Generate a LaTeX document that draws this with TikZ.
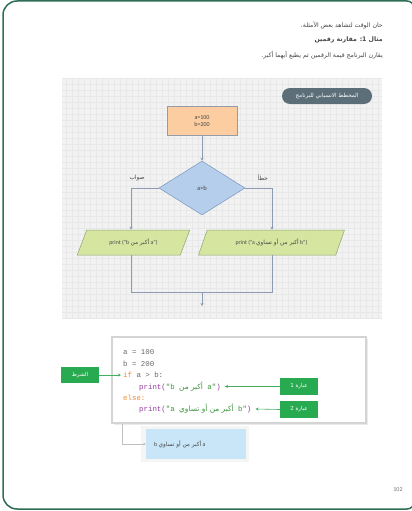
\documentclass[tikz,border=0pt]{standalone}
\usepackage{fontspec}
\setmainfont{Carlito}
\setmonofont{Liberation Mono}
\newfontfamily\arabicfont[Script=Arabic]{DejaVu Sans}
\TeXXeTstate=1
\usetikzlibrary{shapes.geometric,arrows.meta}
\newcommand\artxt[1]{{\arabicfont\beginR #1\endR}}
\definecolor{framec}{RGB}{45,110,85}
\definecolor{bggray}{RGB}{242,242,242}
\definecolor{gridc}{RGB}{232,232,232}
\definecolor{pillc}{RGB}{92,110,120}
\definecolor{orangef}{RGB}{251,205,160}
\definecolor{orangeb}{RGB}{150,155,170}
\definecolor{bluef}{RGB}{180,206,235}
\definecolor{blueb}{RGB}{120,150,190}
\definecolor{greenf}{RGB}{214,230,160}
\definecolor{greenb}{RGB}{140,165,110}
\definecolor{linec}{RGB}{140,155,178}
\definecolor{labg}{RGB}{40,170,80}
\definecolor{arrg}{RGB}{70,175,95}
\definecolor{codebox}{RGB}{212,212,212}
\definecolor{outf}{RGB}{200,230,248}
\definecolor{codegray}{RGB}{105,105,105}
\definecolor{kwc}{RGB}{238,140,50}
\definecolor{fnc}{RGB}{150,60,160}
\definecolor{strc}{RGB}{60,150,60}
\definecolor{txtc}{RGB}{70,70,70}
\begin{document}
\begin{tikzpicture}[x=1pt,y=-1pt,
  hdr/.style={anchor=east,inner sep=0,text=txtc,font=\fontsize{6.2}{7}\arabicfont},
  fbox/.style={draw=orangeb,fill=orangef,line width=0.5,minimum width=70,minimum height=29,inner sep=0,align=center,font=\fontsize{6}{7.5}\selectfont,text=txtc},
  dia/.style={shape=diamond,draw=blueb,fill=bluef,line width=0.5,minimum width=86,minimum height=54,inner sep=0,font=\fontsize{6.5}{7}\selectfont,text=txtc},
  para/.style={shape=trapezium,trapezium left angle=56,trapezium right angle=124,trapezium stretches=true,draw=greenb,fill=greenf,line width=0.5,minimum height=25,inner sep=0,font=\fontsize{5.8}{7}\selectfont,text=txtc},
  conn/.style={draw=linec,line width=0.6},
  tip/.style={-{Stealth[length=3pt,width=3pt]}},
  blab/.style={inner sep=0,text=txtc,font=\fontsize{5.8}{7}\arabicfont},
  glab/.style={fill=labg,text=white,minimum width=38,minimum height=16.5,inner sep=0,font=\fontsize{5.5}{7}\arabicfont},
  garr/.style={draw=arrg,line width=0.6,-{Stealth[length=3pt,width=3pt]}},
  code/.style={anchor=west,inner sep=0,text=codegray,font=\fontsize{7.4}{8}\ttfamily}
]
\useasboundingbox (0,0) rectangle (412,511);
\fill[white] (0,0) rectangle (412,511);
% page frame
\draw[framec,line width=1.5] (414,20) [rounded corners=7] -- (414,1) [rounded corners=14] -- (3,1) -- (3,509) [rounded corners=7] -- (414,509) -- (414,490);
% header
\node[hdr] (h1) at (383,25) {\beginR حان الوقت لتشاهد بعض الأمثلة.\endR};
\node[hdr,font=\fontsize{6.2}{7}\arabicfont\bfseries] (h2) at (383,40) {\beginR مثال \beginL 1:\endL{} مقارنة رقمين\endR};
\node[hdr] (h3) at (383,55) {\beginR يقارن البرنامج قيمة الرقمين ثم يطبع أيهما أكبر.\endR};
% flowchart background
\fill[bggray] (62,78) rectangle (382,318);
\draw[gridc,line width=0.3,step=6pt] (62,78) grid (382,318);
\node[fill=pillc,rounded corners=8,minimum width=90,minimum height=16,inner sep=0,text=white,font=\fontsize{5.6}{7}\arabicfont] (pill) at (327,96) {\beginR المخطط الانسيابي للبرنامج\endR};
% flowchart
\node[fbox] (init) at (202,121) {a=100\\b=200};
\node[dia] (cond) at (202,188) {a>b};
\node[para,minimum width=113] (lp) at (133.5,242.5) {print ("b \artxt{أكبر من} a")};
\node[para,minimum width=147] (rp) at (271.5,242.5) {print ("a \artxt{أكبر من أو تساوي} b")};
\coordinate (lj) at (131,188);
\coordinate (rj) at (272,188);
\coordinate (lm) at (131,292);
\coordinate (rm) at (272,292);
\coordinate (mm) at (202,292);
\coordinate (endp) at (202,306);
\draw[conn,tip] (init.south) -- (cond.north);
\draw[conn,tip] (cond.west) -- (lj) -- (lj |- lp.north);
\draw[conn,tip] (cond.east) -- (rj) -- (rj |- rp.north);
\draw[conn] (lm |- lp.south) -- (lm) -- (rm) -- (rm |- rp.south);
\draw[conn,tip] (mm) -- (endp);
\node[blab] (yes) at (137,178) {\beginR صواب\endR};
\node[blab] (no) at (263,178) {\beginR خطأ\endR};
% code box
\fill[black!8] (114,339) rectangle (368,425);
\draw[codebox,fill=white,line width=1.5] (112,337) rectangle (366,423);
\node[code] (c1) at (123,352) {a = 100};
\node[code] (c2) at (123,363.5) {b = 200};
\node[code] (c3) at (123,375) {\textcolor{kwc}{if} a > b:};
\node[code] (c4) at (139,386.5) {\textcolor{fnc}{print(}\textcolor{strc}{"b \artxt{أكبر من} a"}\textcolor{fnc}{)}};
\node[code] (c5) at (123,397.5) {\textcolor{kwc}{else:}};
\node[code] (c6) at (139,409) {\textcolor{fnc}{print(}\textcolor{strc}{"a \artxt{أكبر من أو تساوي} b"}\textcolor{fnc}{)}};
% labels
\node[glab] (shart) at (80,375) {\beginR الشرط\endR};
\node[glab] (ib1) at (299,386.5) {\beginR عبارة 1\endR};
\node[glab] (ib2) at (299,409.5) {\beginR عبارة 2\endR};
\draw[garr] (shart.east) -- ([xshift=-2pt]c3.west);
\draw[garr] (ib1.west) -- ([xshift=4pt]c4.east);
\draw[garr] (ib2.west) -- ([xshift=4pt]c6.east);
% output
\fill[black!4] (141,426) rectangle (249,462);
\node[fill=outf,minimum width=100,minimum height=30,inner sep=0] (out) at (196,444) {};
\node[anchor=west,inner sep=0,text=txtc,font=\fontsize{5.8}{7}\selectfont] (outt) at (154,444) {b \artxt{أكبر من أو تساوي} a};
\coordinate (ob) at (122,424);
\draw[black!25,line width=0.6,-{Stealth[length=2.5pt,width=2.5pt]}] (ob) -- (ob |- out.west) -- (out.west);
% page number
\node[inner sep=0,text=black!55,font=\fontsize{6}{6}\selectfont] (pg) at (398,490) {102};
\end{tikzpicture}
\end{document}
